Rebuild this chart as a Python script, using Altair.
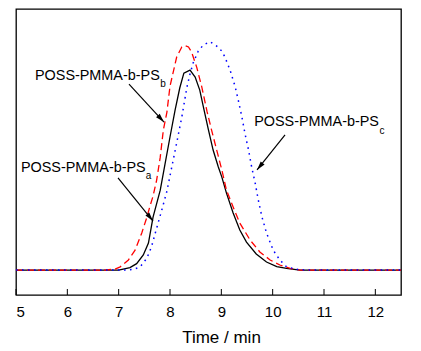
import altair as alt
import pandas as pd
import numpy as np

# ---- data (time in min, relative response) ----
time_a = [5.0, 7.0, 7.22, 7.35, 7.48, 7.58, 7.67, 7.81, 7.90, 8.00, 8.10, 8.19, 8.27, 8.39,
          8.49, 8.58, 8.65, 8.75, 8.84, 8.94, 9.01, 9.10, 9.23, 9.36, 9.49, 9.68, 9.88,
          10.08, 10.27, 10.53, 12.5]
resp_a = [0.0, 0.0, 0.011, 0.028, 0.066, 0.118, 0.231, 0.349, 0.459, 0.581, 0.699, 0.795,
          0.860, 0.873, 0.843, 0.786, 0.713, 0.611, 0.524, 0.451, 0.406, 0.336, 0.249,
          0.175, 0.122, 0.070, 0.035, 0.015, 0.007, 0.0, 0.0]

time_b = [5.0, 6.73, 6.93, 7.03, 7.19, 7.32, 7.45, 7.55, 7.61, 7.67, 7.74, 7.81, 7.87, 7.94,
          8.00, 8.13, 8.23, 8.29, 8.36, 8.42, 8.52, 8.62, 8.72, 8.81, 8.91, 9.01, 9.10,
          9.23, 9.36, 9.56, 9.75, 9.95, 10.14, 10.34, 10.53, 12.5]
resp_b = [0.0, 0.0, 0.004, 0.014, 0.044, 0.087, 0.162, 0.231, 0.279, 0.323, 0.393, 0.493,
          0.611, 0.690, 0.803, 0.930, 0.974, 0.980, 0.974, 0.952, 0.886, 0.799, 0.694,
          0.611, 0.524, 0.437, 0.349, 0.275, 0.205, 0.131, 0.079, 0.044, 0.022, 0.007,
          0.0, 0.0]

time_c = [5.0, 7.12, 7.29, 7.42, 7.55, 7.64, 7.74, 7.84, 7.94, 8.03, 8.13, 8.23, 8.33, 8.39,
          8.45, 8.55, 8.65, 8.78, 8.91, 9.01, 9.07, 9.17, 9.27, 9.33, 9.40, 9.46, 9.53,
          9.59, 9.66, 9.72, 9.79, 9.88, 10.01, 10.14, 10.27, 10.47, 10.63, 12.5]
resp_c = [0.0, 0.0, 0.003, 0.014, 0.052, 0.102, 0.183, 0.262, 0.345, 0.445, 0.555, 0.668,
          0.799, 0.856, 0.904, 0.956, 0.983, 0.997, 0.978, 0.956, 0.930, 0.873, 0.800,
          0.742, 0.669, 0.597, 0.524, 0.451, 0.379, 0.306, 0.233, 0.162, 0.087, 0.044,
          0.014, 0.003, 0.0, 0.0]

x_ticks = [5, 6, 7, 8, 9, 10, 11, 12]

label_main = ["POSS-PMMA-b-PS", "POSS-PMMA-b-PS", "POSS-PMMA-b-PS"]
label_sub = ["a", "b", "c"]
label_x = [5.097, 5.37, 9.64]
label_y = [0.445, 0.847, 0.646]
sub_x = [7.53, 7.81, 12.08]
sub_y = [0.412, 0.814, 0.607]

arrow_x = [6.987, 7.201, 10.241]
arrow_y = [0.402, 0.812, 0.590]
arrow_x2 = [7.669, 7.883, 9.695]
arrow_y2 = [0.214, 0.646, 0.437]

# ---- layout ----
X_DOM = [5, 12.5]
Y_DOM = [-0.109, 1.14]
W, H = 385, 286
FONT = "Liberation Sans"

xs = alt.Scale(domain=X_DOM, nice=False, zero=False)
ys = alt.Scale(domain=Y_DOM, nice=False, zero=False)

df_a = pd.DataFrame({"t": time_a, "v": resp_a})
df_b = pd.DataFrame({"t": time_b, "v": resp_b})
df_c = pd.DataFrame({"t": time_c, "v": resp_c})

base_x = alt.X("t:Q", scale=xs, title="Time / min",
               axis=alt.Axis(values=x_ticks, ticks=False, domain=False, grid=False,
                             labelPadding=9, format="d",
                             titleX=205, titleY=47, titleAlign="center",
                             titleBaseline="alphabetic"))
base_y = alt.Y("v:Q", scale=ys, axis=None)

line_a = alt.Chart(df_a).mark_line(color="black", strokeWidth=1.3).encode(x=base_x, y=base_y)
line_b = alt.Chart(df_b).mark_line(color="#ff0000", strokeWidth=1.3,
                                   strokeDash=[7, 4]).encode(x="t:Q", y="v:Q")
line_c = alt.Chart(df_c).mark_line(color="#0000ff", strokeWidth=1.5,
                                   strokeDash=[1.6, 4.4]).encode(x="t:Q", y="v:Q")

ticks = alt.Chart(pd.DataFrame({"t": x_ticks})).mark_rule(color="black", strokeWidth=1).encode(
    x="t:Q", y=alt.value(H), y2=alt.value(H - 6))

lab_df = pd.DataFrame({"x": label_x, "y": label_y, "text": label_main})
labels = alt.Chart(lab_df).mark_text(align="left", baseline="middle", font=FONT,
                                     fontSize=14.4, color="black").encode(
    x="x:Q", y="y:Q", text="text:N")
sub_df = pd.DataFrame({"x": sub_x, "y": sub_y, "text": label_sub})
subs = alt.Chart(sub_df).mark_text(align="left", baseline="middle", font=FONT,
                                   fontSize=10, color="black").encode(
    x="x:Q", y="y:Q", text="text:N")

sx = W / (X_DOM[1] - X_DOM[0])
sy = H / (Y_DOM[1] - Y_DOM[0])
ang = []
for x0, y0, x1, y1 in zip(arrow_x, arrow_y, arrow_x2, arrow_y2):
    dxp = (x1 - x0) * sx
    dyp = -(y1 - y0) * sy
    ang.append(float(np.degrees(np.arctan2(dxp, -dyp)) % 360))
arr_df = pd.DataFrame({"x": arrow_x, "y": arrow_y, "x2": arrow_x2, "y2": arrow_y2, "angle": ang})

arrow_lines = alt.Chart(arr_df).mark_rule(color="black", strokeWidth=1.2).encode(
    x="x:Q", y="y:Q", x2="x2:Q", y2="y2:Q")
arrow_heads = alt.Chart(arr_df).mark_point(
    shape="M0,0 L0.55,2 L-0.55,2 Z", filled=True, size=81, color="black", opacity=1,
    strokeWidth=0).encode(
    x="x2:Q", y="y2:Q", angle=alt.Angle("angle:Q", scale=None))

chart = alt.layer(line_a, line_b, line_c, ticks, arrow_lines, arrow_heads, labels, subs).properties(
    width=W, height=H,
    autosize=alt.AutoSizeParams(type="none"),
    padding={"left": 16, "top": 9, "right": 20, "bottom": 56},
    background="white",
).configure_view(stroke="black", strokeWidth=1.3).configure_axis(
    labelFont=FONT, labelFontSize=15, labelColor="black",
    titleFont=FONT, titleFontSize=17, titleFontWeight="normal", titleColor="black",
)

chart.save("out.html", embed_options={"renderer": "svg", "actions": False})
